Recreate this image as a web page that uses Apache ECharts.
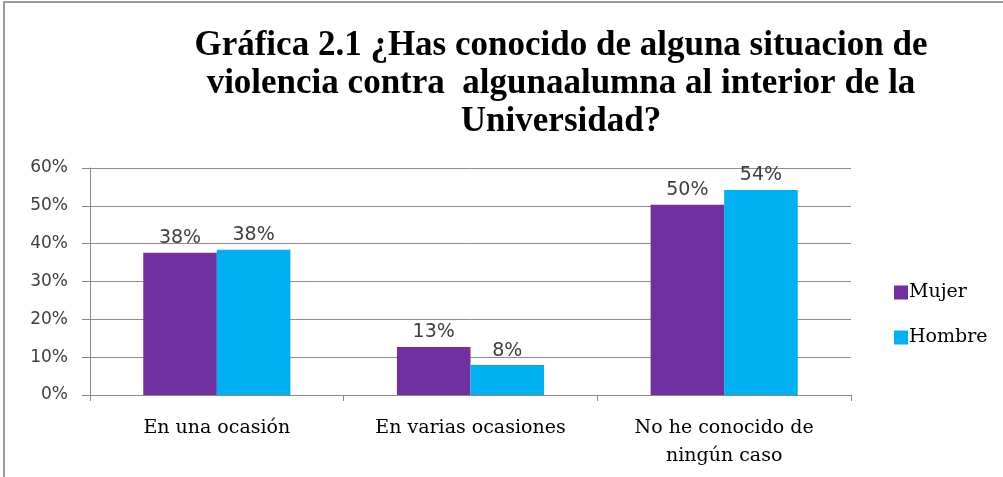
<!DOCTYPE html>
<html>
<head>
<meta charset="utf-8">
<script src="https://cdn.jsdelivr.net/npm/echarts@6/dist/echarts.min.js"></script>
<style>
  html, body { margin: 0; padding: 0; background: #fff; }
  #chart { width: 1003px; height: 477px; }
</style>
</head>
<body>
<div id="chart"></div>
<script>
// datos
var categorias = ['En una ocasión', 'En varias ocasiones', 'No he conocido de\nningún caso']
var mujer = [37.6, 12.7, 50.3]
var hombre = [38.4, 7.9, 54.2]
var yTicks = [0, 10, 20, 30, 40, 50, 60]

var chart = echarts.init(document.getElementById('chart'))

var labelStyle = {
  show: true,
  position: 'top',
  distance: 5,
  color: '#404040',
  fontFamily: 'DejaVu Sans',
  fontSize: 19,
  formatter: function (p) { return Math.round(p.value) + '%' }
}

chart.setOption({
  animation: false,
  title: {
    text: 'Gráfica 2.1 ¿Has conocido de alguna situacion de\nviolencia contra  algunaalumna al interior de la\nUniversidad?',
    left: 556,
    top: 22,
    textAlign: 'center',
    textStyle: {
      fontFamily: 'Liberation Serif',
      fontWeight: 'bold',
      fontSize: 35,
      lineHeight: 38,
      color: '#000'
    }
  },
  graphic: [{
    type: 'polyline',
    shape: { points: [[4, 477], [4, 2], [1003, 2]] },
    style: { stroke: '#9a9a9a', lineWidth: 2, fill: null }
  }],
  legend: {
    orient: 'vertical',
    left: 889,
    top: 278,
    itemWidth: 14,
    itemHeight: 14,
    itemGap: 26,
    icon: 'rect',
    textStyle: {
      fontFamily: 'DejaVu Serif',
      fontSize: 19,
      color: '#000',
      padding: [0, 0, 0, -4]
    },
    data: ['Mujer', 'Hombre']
  },
  grid: {
    left: 90,
    right: 152,
    top: 168,
    bottom: 82
  },
  xAxis: {
    type: 'category',
    data: categorias,
    axisLine: { lineStyle: { color: '#888', width: 1 } },
    axisTick: { show: true, length: 6, lineStyle: { color: '#888' } },
    axisLabel: {
      margin: 19,
      color: '#000',
      fontFamily: 'DejaVu Serif',
      fontSize: 19,
      lineHeight: 28
    }
  },
  yAxis: {
    type: 'value',
    min: yTicks[0],
    max: yTicks[yTicks.length - 1],
    interval: 10,
    axisLine: { show: true, lineStyle: { color: '#888' } },
    axisTick: { show: true, length: 8, lineStyle: { color: '#888' } },
    splitLine: { lineStyle: { color: '#8c8c8c', width: 1 } },
    axisLabel: {
      margin: 22,
      color: '#404040',
      fontFamily: 'DejaVu Sans',
      fontSize: 17,
      formatter: '{value}%'
    }
  },
  series: [
    {
      name: 'Mujer',
      type: 'bar',
      data: mujer,
      barWidth: '29%',
      barGap: '0%',
      itemStyle: { color: '#7030A0' },
      label: labelStyle
    },
    {
      name: 'Hombre',
      type: 'bar',
      data: hombre,
      barWidth: '29%',
      barGap: '0%',
      itemStyle: { color: '#00B0F0' },
      label: labelStyle
    }
  ]
})
</script>
</body>
</html>
